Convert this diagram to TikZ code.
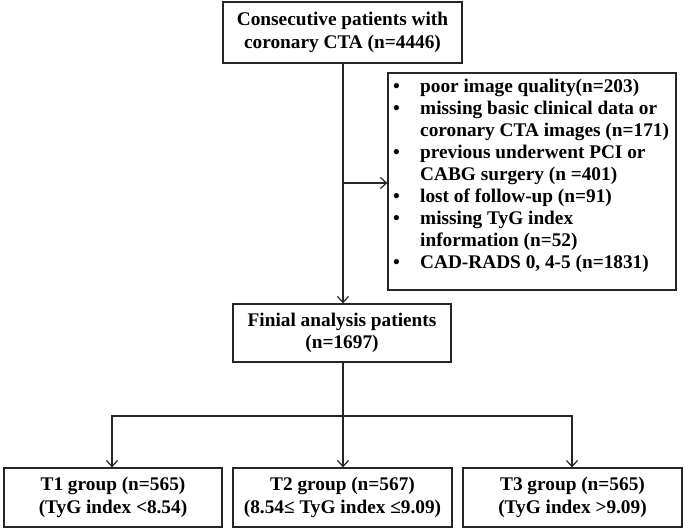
\documentclass[tikz,border=0pt]{standalone}
\usepackage{fontspec}
\setmainfont{Liberation Serif}
\usetikzlibrary{arrows.meta}
\begin{document}
\begin{tikzpicture}[x=1pt,y=-1pt,
  txt/.style={inner sep=0pt, font=\bfseries\fontsize{19.3}{22.5}\selectfont},
  box/.style={txt, draw=black!85, line width=1.3pt, align=center},
  conn/.style={line width=1.3pt, draw=black!85},
  arr/.style={conn, -{Straight Barb[length=6pt,width=11pt,line width=1.2pt]}}]
\useasboundingbox (0,0) rectangle (685,531);
\node[box, minimum width=239pt, minimum height=61pt] (top) at (342.5,32.5)
  {Consecutive patients with\\coronary CTA (n=4446)};
\node[box, minimum width=288pt, minimum height=217pt] (excl) at (532,181.5) {};
\node[txt, anchor=west, align=left] (excltext) at (393,176)
  {\def\arraystretch{0.975}\begin{tabular}{@{}p{27pt}@{}l@{}}
  \textbullet & poor image quality(n=203)\\
  \textbullet & missing basic clinical data or\\
   & coronary CTA images (n=171)\\
  \textbullet & previous underwent PCI or\\
   & CABG surgery (n =401)\\
  \textbullet & lost of follow-up (n=91)\\
  \textbullet & missing TyG index\\
   & information (n=52)\\
  \textbullet & CAD-RADS 0, 4-5 (n=1831)
  \end{tabular}};
\node[box, minimum width=218pt, minimum height=58pt] (fin) at (342,333)
  {Finial analysis patients\\(n=1697)};
\node[box, minimum width=218pt, minimum height=59pt] (t1) at (113,497.5)
  {T1 group (n=565)\\(TyG index <8.54)};
\node[box, minimum width=219pt, minimum height=59pt] (t2) at (342.5,497.5)
  {T2 group (n=567)\\(8.54≤ TyG index ≤9.09)};
\node[box, minimum width=219pt, minimum height=59pt] (t3) at (572.5,497.5)
  {T3 group (n=565)\\(TyG index >9.09)};
\coordinate (split) at (343,183);
\coordinate (hl) at (112,416);
\coordinate (hr) at (572,416);
\draw[arr] (top.south -| split) -- (fin.north -| split);
\draw[arr] (split) -- (split -| excl.west);
\draw[arr] (fin.south -| split) -- (t2.north -| split);
\draw[arr] (hl -| split) -- (hl) -- (t1.north -| hl);
\draw[arr] (hr -| split) -- (hr) -- (t3.north -| hr);
\end{tikzpicture}
\end{document}
